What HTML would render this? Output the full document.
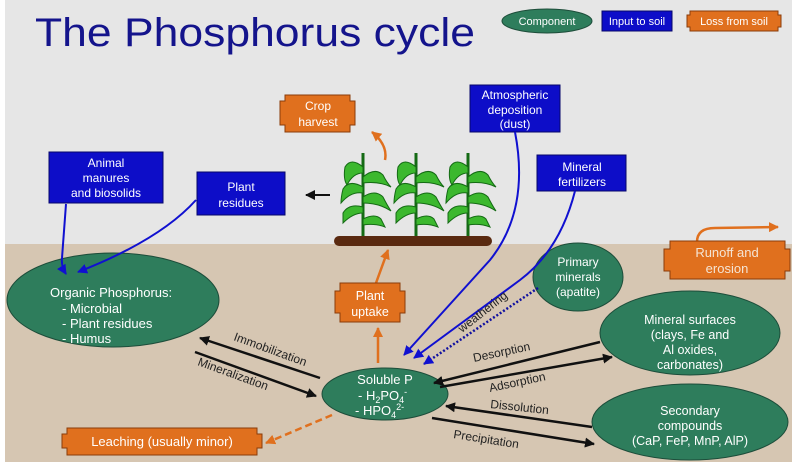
<!DOCTYPE html>
<html><head><meta charset="utf-8"><style>
html,body{margin:0;padding:0;background:#fff}
svg{display:block}
text{font-family:"Liberation Sans",Arial,sans-serif}
</style></head><body>
<svg width="800" height="467" viewBox="0 0 800 467" xmlns="http://www.w3.org/2000/svg">
<defs>
<marker id="abl" markerWidth="10" markerHeight="10" refX="9" refY="5" orient="auto" markerUnits="userSpaceOnUse"><path d="M0,0 L10,5 L0,10 z" fill="#1010d0"/></marker>
<marker id="ao" markerWidth="10" markerHeight="10" refX="9" refY="5" orient="auto" markerUnits="userSpaceOnUse"><path d="M0,0 L10,5 L0,10 z" fill="#e0701e"/></marker>
<marker id="ak" markerWidth="10" markerHeight="10" refX="9" refY="5" orient="auto" markerUnits="userSpaceOnUse"><path d="M0,0 L10,5 L0,10 z" fill="#111"/></marker>
<g id="plant">
<line x1="0" y1="0" x2="0" y2="84" stroke="#146a14" stroke-width="3"/>
<path d="M0,14 Q-12,4 -18,14 Q-20,26 -16,32 Q-10,20 0,20 Z M0,34 Q-14,26 -20,36 Q-22,44 -22,50 Q-12,38 0,40 Z M0,54 Q-14,50 -20,60 L-20,70 Q-10,60 0,60 Z" fill="#3cb82e" stroke="#146a14" stroke-width="1"/>
<path d="M0,24 Q12,14 20,22 Q24,30 28,34 Q16,28 0,30 Z M0,44 Q12,36 20,44 Q24,52 28,58 Q16,50 0,50 Z M0,66 Q12,60 18,66 L22,74 Q12,70 0,72 Z" fill="#3cb82e" stroke="#146a14" stroke-width="1"/>
</g>
</defs>
<rect x="5" y="0" width="787" height="245" fill="#e6e6e6"/>
<rect x="5" y="244" width="787" height="218" fill="#d6c6b2"/>
<text x="35" y="46" font-size="40" fill="#14148c" textLength="440" lengthAdjust="spacingAndGlyphs">The Phosphorus cycle</text>
<!-- legend -->
<ellipse cx="547" cy="21" rx="45" ry="12" fill="#2e7d5c" stroke="#1d4d3a"/>
<text x="547" y="25" font-size="11" fill="#fff" text-anchor="middle">Component</text>
<rect x="602" y="11" width="70" height="20" fill="#0d0dc8" stroke="#06066a"/>
<text x="637" y="25" font-size="11" fill="#fff" text-anchor="middle">Input to soil</text>
<path d="M690,11 h88 v4 h3 v12 h-3 v4 h-88 v-4 h-3 v-12 h3 z" fill="#e0701e" stroke="#8a3c0a"/>
<text x="734" y="25" font-size="11" fill="#fff" text-anchor="middle">Loss from soil</text>
<!-- crop harvest -->
<path d="M285,95 h65 v6 h5 v24 h-5 v7 h-65 v-7 h-5 v-24 h5 z" fill="#e0701e" stroke="#8a3c0a"/>
<text x="318" y="110" font-size="12" fill="#fff" text-anchor="middle">Crop</text>
<text x="318" y="126" font-size="12" fill="#fff" text-anchor="middle">harvest</text>
<path d="M385,160 Q388,145 372,132" fill="none" stroke="#e0701e" stroke-width="2.5" marker-end="url(#ao)"/>
<!-- blue boxes -->
<rect x="470" y="85" width="90" height="47" fill="#0d0dc8" stroke="#06066a"/>
<text x="515" y="99" font-size="12" fill="#fff" text-anchor="middle">Atmospheric</text>
<text x="515" y="114" font-size="12" fill="#fff" text-anchor="middle">deposition</text>
<text x="515" y="128" font-size="12" fill="#fff" text-anchor="middle">(dust)</text>
<rect x="49" y="152" width="114" height="51" fill="#0d0dc8" stroke="#06066a"/>
<text x="106" y="167" font-size="12" fill="#fff" text-anchor="middle">Animal</text>
<text x="106" y="182" font-size="12" fill="#fff" text-anchor="middle">manures</text>
<text x="106" y="197" font-size="12" fill="#fff" text-anchor="middle">and biosolids</text>
<rect x="197" y="172" width="88" height="43" fill="#0d0dc8" stroke="#06066a"/>
<text x="241" y="191" font-size="12" fill="#fff" text-anchor="middle">Plant</text>
<text x="241" y="207" font-size="12" fill="#fff" text-anchor="middle">residues</text>
<rect x="537" y="155" width="89" height="36" fill="#0d0dc8" stroke="#06066a"/>
<text x="582" y="171" font-size="12" fill="#fff" text-anchor="middle">Mineral</text>
<text x="582" y="186" font-size="12" fill="#fff" text-anchor="middle">fertilizers</text>
<!-- plants -->
<use href="#plant" x="363" y="153"/>
<use href="#plant" x="416" y="153"/>
<use href="#plant" x="468" y="153"/>
<rect x="334" y="236" width="158" height="10" rx="5" fill="#5a2a10"/>
<line x1="330" y1="195" x2="306" y2="195" stroke="#111" stroke-width="2" marker-end="url(#ak)"/>
<!-- runoff -->
<path d="M697,242 Q697,228 715,228 L778,227" fill="none" stroke="#e0701e" stroke-width="2.5" marker-end="url(#ao)"/>
<path d="M670,241 h115 v8 h5 v22 h-5 v8 h-115 v-8 h-6 v-22 h6 z" fill="#e0701e" stroke="#8a3c0a"/>
<text x="727" y="257" font-size="13" fill="#f4e4d4" text-anchor="middle">Runoff and</text>
<text x="727" y="273" font-size="13" fill="#f4e4d4" text-anchor="middle">erosion</text>
<!-- components -->
<ellipse cx="113" cy="300" rx="106" ry="47" fill="#2e7d5c" stroke="#1d4d3a"/>
<text x="50" y="297" font-size="13" fill="#fff">Organic Phosphorus:</text>
<text x="62" y="313" font-size="13" fill="#fff">- Microbial</text>
<text x="62" y="328" font-size="13" fill="#fff">- Plant residues</text>
<text x="62" y="343" font-size="13" fill="#fff">- Humus</text>
<ellipse cx="578" cy="277" rx="45" ry="34" fill="#2e7d5c" stroke="#1d4d3a"/>
<text x="578" y="266" font-size="12" fill="#fff" text-anchor="middle">Primary</text>
<text x="578" y="281" font-size="12" fill="#fff" text-anchor="middle">minerals</text>
<text x="578" y="296" font-size="12" fill="#fff" text-anchor="middle">(apatite)</text>
<ellipse cx="690" cy="333" rx="90" ry="42" fill="#2e7d5c" stroke="#1d4d3a"/>
<text x="690" y="324" font-size="12.5" fill="#fff" text-anchor="middle">Mineral surfaces</text>
<text x="690" y="339" font-size="12.5" fill="#fff" text-anchor="middle">(clays, Fe and</text>
<text x="690" y="354" font-size="12.5" fill="#fff" text-anchor="middle">Al oxides,</text>
<text x="690" y="369" font-size="12.5" fill="#fff" text-anchor="middle">carbonates)</text>
<ellipse cx="690" cy="422" rx="98" ry="38" fill="#2e7d5c" stroke="#1d4d3a"/>
<text x="690" y="415" font-size="12.5" fill="#fff" text-anchor="middle">Secondary</text>
<text x="690" y="430" font-size="12.5" fill="#fff" text-anchor="middle">compounds</text>
<text x="690" y="445" font-size="12.5" fill="#fff" text-anchor="middle">(CaP, FeP, MnP,  AlP)</text>
<!-- blue arrows -->
<path d="M66,204 L62,258 Q61,266 66,274" fill="none" stroke="#1010d0" stroke-width="2" marker-end="url(#abl)"/>
<path d="M196,200 Q160,240 78,272" fill="none" stroke="#1010d0" stroke-width="2" marker-end="url(#abl)"/>
<path d="M515,132 Q530,210 490,260 L404,355" fill="none" stroke="#1010d0" stroke-width="2" marker-end="url(#abl)"/>
<path d="M575,191 Q560,250 520,280 L414,358" fill="none" stroke="#1010d0" stroke-width="2" marker-end="url(#abl)"/>
<line x1="538" y1="288" x2="424" y2="364" stroke="#1010a0" stroke-width="2.5" stroke-dasharray="2,2" marker-end="url(#abl)"/>
<text x="0" y="0" font-size="12" fill="#222" transform="translate(462,333) rotate(-38)">weathering</text>
<!-- plant uptake -->
<line x1="378" y1="363" x2="378" y2="328" stroke="#e0701e" stroke-width="2.5" marker-end="url(#ao)"/>
<line x1="376" y1="283" x2="388" y2="250" stroke="#e0701e" stroke-width="2.5" marker-end="url(#ao)"/>
<path d="M340,283 h60 v8 h5 v22 h-5 v9 h-60 v-9 h-5 v-22 h5 z" fill="#e0701e" stroke="#8a3c0a"/>
<text x="370" y="300" font-size="12.5" fill="#fff" text-anchor="middle">Plant</text>
<text x="370" y="316" font-size="12.5" fill="#fff" text-anchor="middle">uptake</text>
<!-- soluble P -->
<ellipse cx="385" cy="394" rx="63" ry="26" fill="#2e7d5c" stroke="#1d4d3a"/>
<text x="385" y="384" font-size="13" fill="#fff" text-anchor="middle">Soluble P</text>
<text x="358" y="400" font-size="13" fill="#fff">- H<tspan font-size="9" dy="3">2</tspan><tspan dy="-3">PO</tspan><tspan font-size="9" dy="3">4</tspan><tspan font-size="9" dy="-8">-</tspan></text>
<text x="355" y="415" font-size="13" fill="#fff">- HPO<tspan font-size="9" dy="3">4</tspan><tspan font-size="9" dy="-8">2-</tspan></text>
<!-- black arrows -->
<line x1="320" y1="378" x2="200" y2="338" stroke="#111" stroke-width="2.5" marker-end="url(#ak)"/>
<line x1="195" y1="352" x2="316" y2="396" stroke="#111" stroke-width="2.5" marker-end="url(#ak)"/>
<text transform="translate(233,340) rotate(20)" font-size="12" fill="#222">Immobilization</text>
<text transform="translate(197,365) rotate(20)" font-size="12" fill="#222">Mineralization</text>
<line x1="600" y1="342" x2="434" y2="383" stroke="#111" stroke-width="2.5" marker-end="url(#ak)"/>
<line x1="440" y1="387" x2="612" y2="357" stroke="#111" stroke-width="2.5" marker-end="url(#ak)"/>
<text transform="translate(474,362) rotate(-12)" font-size="12" fill="#222">Desorption</text>
<text transform="translate(490,392) rotate(-12)" font-size="12" fill="#222">Adsorption</text>
<line x1="592" y1="427" x2="446" y2="406" stroke="#111" stroke-width="2.5" marker-end="url(#ak)"/>
<line x1="432" y1="418" x2="594" y2="444" stroke="#111" stroke-width="2.5" marker-end="url(#ak)"/>
<text transform="translate(490,408) rotate(6)" font-size="12" fill="#222">Dissolution</text>
<text transform="translate(453,438) rotate(9)" font-size="12" fill="#222">Precipitation</text>
<!-- leaching -->
<line x1="332" y1="415" x2="266" y2="443" stroke="#e0701e" stroke-width="2.5" stroke-dasharray="7,4" marker-end="url(#ao)"/>
<path d="M67,428 h190 v6 h5 v14 h-5 v7 h-190 v-7 h-5 v-14 h5 z" fill="#e0701e" stroke="#8a3c0a"/>
<text x="162" y="446" font-size="13" fill="#fff" text-anchor="middle">Leaching (usually minor)</text>
</svg>
</body></html>
